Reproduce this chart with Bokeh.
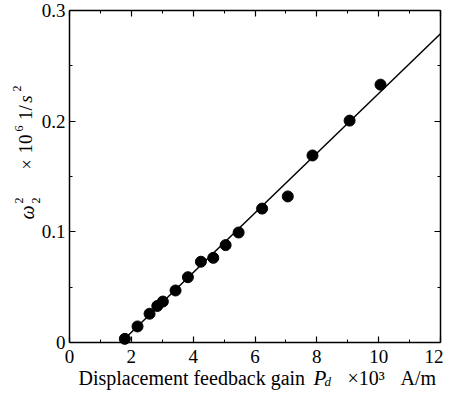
import math
from bokeh.plotting import figure
from bokeh.models import LinearAxis, FixedTicker, Label, Range1d
from bokeh.embed import file_html
from bokeh.resources import INLINE

# ---- data ----
gain_pd = [1.79, 2.2, 2.59, 2.84, 3.02, 3.43, 3.83, 4.25, 4.65, 5.05, 5.47, 6.23, 7.06, 7.86, 9.06, 10.06]
omega2_sq = [0.0033, 0.0145, 0.026, 0.033, 0.037, 0.047, 0.059, 0.073, 0.0765, 0.088, 0.0994, 0.121, 0.132, 0.169, 0.2005, 0.233]
fit_x = [1.66, 12.0]
fit_y = [0.0, 0.279]

x_ticks = [0, 2, 4, 6, 8, 10, 12]
x_minor = [1, 3, 5, 7, 9, 11]
x_tick_labels = ["0", "2", "4", "6", "8", "10", "12"]
y_ticks = [0, 0.1, 0.2, 0.3]
y_minor = [0.05, 0.15, 0.25]
y_tick_labels = ["0", "0.1", "0.2", "0.3"]

FONT = "Liberation Serif"

# canvas layout (pixels): the axes box sits at x 69..440, y 10..342
W, H = 443, 390
BOX_L, BOX_R, BOX_T, BOX_B = 69, 440, 10, 342
X0, X1 = x_ticks[0], x_ticks[-1]
Y0, Y1 = y_ticks[0], y_ticks[-1]
kx = (X1 - X0) / (BOX_R - BOX_L)
ky = (Y1 - Y0) / (BOX_B - BOX_T)

p = figure(width=W, height=H, output_backend="svg", toolbar_location=None,
           x_range=Range1d(X0 - BOX_L * kx, X1 + (W - BOX_R) * kx),
           y_range=Range1d(Y0 - (H - BOX_B) * ky, Y1 + BOX_T * ky),
           min_border=0, min_border_left=0, min_border_right=0,
           min_border_top=0, min_border_bottom=0)
p.xgrid.visible = False
p.ygrid.visible = False
p.outline_line_color = None
p.background_fill_color = "white"
p.border_fill_color = "white"

def style_axis(ax, ticks, minor, labels, standoff, loc, bounds, show_labels=True):
    ax.fixed_location = loc
    ax.bounds = bounds
    ax.ticker = FixedTicker(ticks=ticks, minor_ticks=minor)
    ax.major_tick_in = 6
    ax.major_tick_out = 0
    ax.minor_tick_in = 3
    ax.minor_tick_out = 0
    ax.axis_line_color = "black"
    ax.axis_line_width = 1.5
    ax.major_tick_line_color = "black"
    ax.minor_tick_line_color = "black"
    ax.major_tick_line_width = 1.2
    ax.minor_tick_line_width = 1
    if show_labels:
        ax.major_label_overrides = {t: l for t, l in zip(ticks, labels)}
        ax.major_label_text_font = FONT
        ax.major_label_text_font_size = "19px"
        ax.major_label_text_color = "black"
        ax.major_label_standoff = standoff
    else:
        ax.major_label_overrides = {t: "" for t in ticks}
        ax.major_label_standoff = 0

style_axis(p.xaxis[0], x_ticks, x_minor, x_tick_labels, 7, Y0, (X0, X1))
style_axis(p.yaxis[0], y_ticks, y_minor, y_tick_labels, 4, X0, (Y0, Y1))

top = LinearAxis()
style_axis(top, x_ticks, x_minor, x_tick_labels, 0, Y1, (X0, X1), show_labels=False)
p.add_layout(top, "above")
right = LinearAxis()
style_axis(right, y_ticks, y_minor, y_tick_labels, 0, X1, (Y0, Y1), show_labels=False)
p.add_layout(right, "right")

p.line(fit_x, fit_y, line_color="black", line_width=1.5)
p.scatter(gain_pd, omega2_sq, size=11, fill_color="black", line_color="black")

# axis titles, placed in canvas pixels (x from left, y from top)
def lab(px, py, text, size="20px", style="normal", angle=0.0, align="left"):
    p.add_layout(Label(x=px, y=H - py, x_units="screen", y_units="screen", text=text,
                       text_font=FONT, text_font_size=size, text_font_style=style,
                       text_color="black", angle=angle, text_align=align,
                       text_baseline="middle"))

# x axis title
XL = 377
lab(78, XL, "Displacement feedback gain")
lab(313, XL, "P", size="21px", style="italic")
lab(324, XL + 4, "d", size="13px", style="italic")
lab(347, XL, "×10³")
lab(400, XL, "A/m")

# y axis title (rotated)
R = math.pi / 2
lab(26, 212, "ω", size="20px", style="italic", angle=R, align="center")
lab(35, 200, "2", size="12px", angle=R, align="center")
lab(18, 200, "2", size="12px", angle=R, align="center")
lab(26, 164, "×", size="18px", angle=R, align="center")
lab(25, 143.5, "10", size="19px", angle=R, align="center")
lab(18, 128, "6", size="12px", angle=R, align="center")
lab(25, 112, "1/", size="19px", angle=R, align="center")
lab(25, 98.5, "s", size="19px", style="italic", angle=R, align="center")
lab(16, 88, "2", size="12px", angle=R, align="center")

open("out.html", "w").write(file_html(p, INLINE))
